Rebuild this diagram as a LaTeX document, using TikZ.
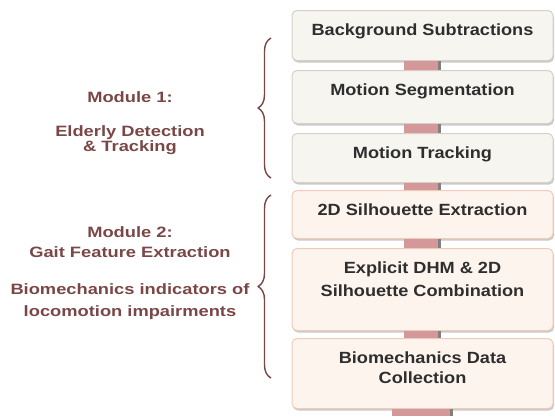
\documentclass[tikz,border=0pt]{standalone}
\usepackage{fontspec}
\usetikzlibrary{decorations.pathreplacing,shadows}
\newfontfamily\stepfont{Liberation Sans Bold}[FakeStretch=1.12]
\newfontfamily\modfont{Liberation Sans Bold}[FakeStretch=1.22]
\definecolor{greyfill}{RGB}{246,245,240}
\definecolor{greyedge}{RGB}{214,209,196}
\definecolor{peachfill}{RGB}{253,244,237}
\definecolor{peachedge}{RGB}{240,204,184}
\definecolor{linkred}{RGB}{212,152,154}
\definecolor{modbrown}{RGB}{122,70,70}

\begin{document}
\begin{tikzpicture}[x=1pt,y=-1pt,line join=round,
  stepbox/.style={rectangle,rounded corners=5pt,line width=1pt,anchor=north,
    minimum width=261pt,inner xsep=0pt,inner ysep=0pt,text height=25pt,align=center,
    text=black!82,font=\stepfont\fontsize{16.2}{21}\selectfont,
    drop shadow={shadow xshift=1pt,shadow yshift=-2pt,fill=black!35,opacity=0.6}},
  detbox/.style={stepbox,draw=greyedge,fill=greyfill},
  gaitbox/.style={stepbox,draw=peachedge,fill=peachfill},
  link/.style={linkred,line width=37pt},
  linkedge/.style={black!50,line width=3pt},
  modtext/.style={text=modbrown,align=center,font=\modfont\fontsize{15}{17}\selectfont},
  modbrace/.style={modbrown,line width=1.4pt,decorate,decoration={brace,amplitude=13pt}}]
\useasboundingbox (0,0) rectangle (555,416);

% processing steps
\node[detbox,text depth=25pt] (b1) at (422.5,10) {Background Subtractions};
\node[detbox,text depth=28pt] (b2) at (422.5,70) {Motion Segmentation};
\node[detbox,text depth=24pt] (b3) at (422.5,133) {Motion Tracking};
\node[gaitbox,text depth=23pt] (b4) at (422.5,190) {2D Silhouette Extraction};
\node[gaitbox,text height=48pt,text depth=34pt] (b5) at (422.5,248) {Explicit DHM \& 2D\\[2pt]Silhouette Combination};
\node[gaitbox,text height=45pt,text depth=25pt] (b6) at (422.5,338) {Biomechanics Data\\[-1pt]Collection};
\coordinate (tail) at (422.5,416);

% links between the steps
\foreach \a/\b in {b1/b2,b2/b3,b3/b4,b4/b5,b5/b6} {
  \draw[link] (\a.south) -- (\b.north);
  \draw[linkedge] ([xshift=17pt]\a.south) -- ([xshift=17pt]\b.north);
}
\draw[link,line width=61pt] (b6.south) -- (tail);
\draw[linkedge] ([xshift=29pt]b6.south) -- ([xshift=29pt]tail);

% module labels
\node[modtext] (m1) at (130,97) {Module 1:};
\node[modtext] (m1sub) at (130,140) {Elderly Detection\\[-2pt]\& Tracking};
\node[modtext] (m2) at (130,242.5) {Module 2:\\[3pt]Gait Feature Extraction};
\node[modtext] (m2sub) at (130,301.5) {Biomechanics indicators of\\[5pt]locomotion impairments};

% braces
\draw[modbrace] (271,178) -- (271,38);
\draw[modbrace] (271,378) -- (271,195);
\end{tikzpicture}
\end{document}
